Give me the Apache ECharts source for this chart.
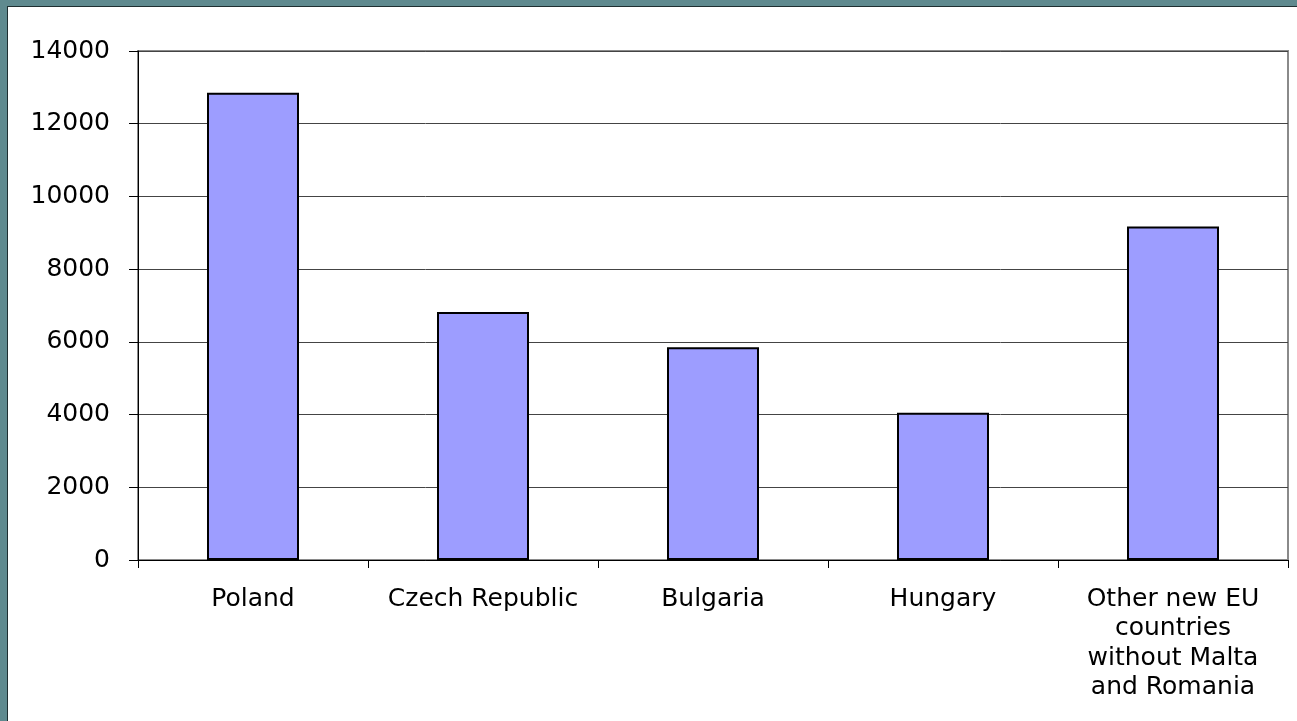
<!DOCTYPE html>
<html>
<head>
<meta charset="utf-8">
<script src="https://cdn.jsdelivr.net/npm/echarts@6/dist/echarts.min.js"></script>
<style>
  html, body { margin: 0; padding: 0; }
  body { width: 1297px; height: 721px; background: #5f8a8f; position: relative; overflow: hidden; }
  #main {
    position: absolute; left: 7px; top: 6px; width: 1290px; height: 715px;
    background: #fff; border-left: 1px solid #1f2f31; border-top: 1px solid #1f2f31;
    box-sizing: border-box;
  }
</style>
</head>
<body>
<div id="main"></div>
<script>
// values
var countries = ['Poland', 'Czech Republic', 'Bulgaria', 'Hungary', 'Other new EU\ncountries\nwithout Malta\nand Romania'];
var values = [12850, 6820, 5850, 4050, 9170];

var chart = echarts.init(document.getElementById('main'), null, { renderer: 'canvas' });
chart.setOption({
  animation: false,
  textStyle: { fontFamily: 'DejaVu Sans, sans-serif' },
  grid: {
    left: 130, top: 44, width: 1150, height: 509,
    show: true, borderColor: '#8a8a8a', borderWidth: 2, backgroundColor: 'transparent'
  },
  xAxis: {
    type: 'category',
    data: countries,
    boundaryGap: true,
    axisLine: { lineStyle: { color: '#000', width: 1 } },
    axisTick: { show: true, interval: 0, length: 8, lineStyle: { color: '#000' } },
    axisLabel: {
      interval: 0, color: '#000', fontSize: 25, margin: 25, lineHeight: 29.3
    },
    splitLine: { show: false }
  },
  yAxis: {
    type: 'value',
    min: 0, max: 14000, interval: 2000,
    axisLine: { show: true, lineStyle: { color: '#000', width: 1 } },
    axisTick: { show: true, length: 9, lineStyle: { color: '#000' } },
    axisLabel: { color: '#000', fontSize: 25, margin: 28, formatter: function (v) { return String(v); } },
    splitLine: { show: true, lineStyle: { color: '#444', width: 1 } }
  },
  series: [{
    type: 'bar',
    data: values,
    barWidth: '40%',
    itemStyle: { color: '#9d9dff', borderColor: '#000', borderWidth: 2 }
  }]
});
</script>
</body>
</html>
